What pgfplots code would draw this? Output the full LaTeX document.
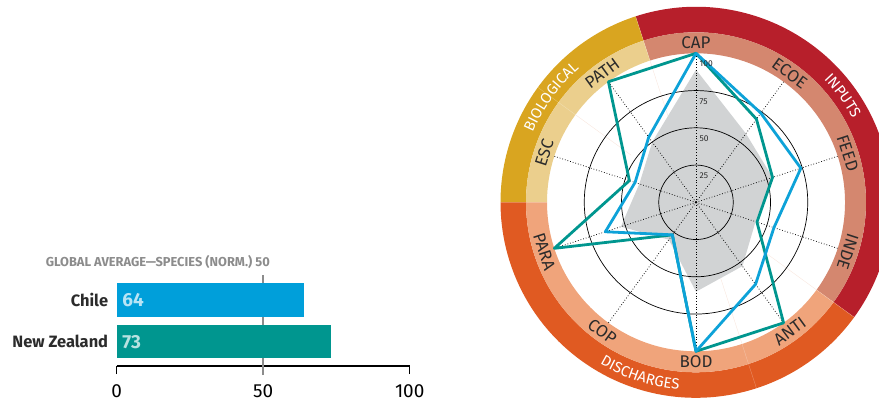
\documentclass[border=0pt]{standalone}
\usepackage{fontspec}
\setmainfont{Fira Sans}
\usepackage{graphicx}
\usepackage{pgfplots}
\pgfplotsset{compat=1.18}
\usepgfplotslibrary{polar}
\usetikzlibrary{decorations.text}

\definecolor{chileblue}{HTML}{009FDA}
\definecolor{nzteal}{HTML}{00968F}
\definecolor{lineblue}{HTML}{0DA2D8}
\definecolor{avgfill}{HTML}{D1D3D4}
\definecolor{avggray}{HTML}{8C8C8C}
\definecolor{inputsdark}{HTML}{B71F2B}
\definecolor{inputslight}{HTML}{D4876F}
\definecolor{biodark}{HTML}{D9A520}
\definecolor{biolight}{HTML}{EBCF8D}
\definecolor{discdark}{HTML}{E05A22}
\definecolor{disclight}{HTML}{F0A47B}
\definecolor{labeldark}{HTML}{2B2B2B}
\definecolor{faintline}{HTML}{F8E6DE}

\newcommand{\sector}[5]{\fill[#5] (#1:#3) arc[start angle=#1, end angle=#2, radius=#3] -- (#2:#4) arc[start angle=#2, end angle=#1, radius=#4] -- cycle;}

\begin{document}
\begin{tikzpicture}

% ---------- ring around radar ----------
\begin{scope}[shift={(696bp,197.7bp)}]
\sector{-36}{108}{170bp}{195.5bp}{inputsdark}
\sector{-36}{108}{149bp}{170bp}{inputslight}
\sector{108}{180}{170bp}{195.5bp}{biodark}
\sector{108}{180}{149bp}{170bp}{biolight}
\sector{180}{324}{170bp}{195.5bp}{discdark}
\sector{180}{324}{149bp}{170bp}{disclight}
\foreach \a in {108,144,324,288}{
  \draw[faintline, line width=0.4bp] (\a:80bp) -- (\a:149bp);
  \draw[white, opacity=0.3, line width=0.4bp] (\a:149bp) -- (\a:195.5bp);
}
\end{scope}

% ---------- radar chart ----------
\begin{axis}[
  at={(696bp,197.7bp)}, anchor=center,
  scale only axis, width=298bp, height=298bp,
  xmin=-100, xmax=100, ymin=-100, ymax=100,
  hide axis, clip=false,
]
% global average (gray area)
\addplot[data cs=polar, draw=none, fill=avgfill, mark=none] coordinates {
  (90,89) (54,57) (18,54) (-18,42) (-54,53) (-90,60) (-126,31) (-162,53) (162,40) (126,50)
};
% grid
\draw[black, line width=0.7bp] (axis cs:0,0) circle[radius=37.25bp];
\draw[black, line width=0.7bp] (axis cs:0,0) circle[radius=74.5bp];
\draw[black, line width=0.7bp] (axis cs:0,0) circle[radius=111.75bp];
\draw[black, dotted, line width=0.75bp] (axis cs:0,0) -- ++(18:149bp);
\draw[black, dotted, line width=0.75bp] (axis cs:0,0) -- ++(54:149bp);
\draw[black, dotted, line width=0.75bp] (axis cs:0,0) -- ++(90:149bp);
\draw[black, dotted, line width=0.75bp] (axis cs:0,0) -- ++(126:149bp);
\draw[black, dotted, line width=0.75bp] (axis cs:0,0) -- ++(162:149bp);
\draw[black, dotted, line width=0.75bp] (axis cs:0,0) -- ++(198:149bp);
\draw[black, dotted, line width=0.75bp] (axis cs:0,0) -- ++(234:149bp);
\draw[black, dotted, line width=0.75bp] (axis cs:0,0) -- ++(270:149bp);
\draw[black, dotted, line width=0.75bp] (axis cs:0,0) -- ++(306:149bp);
\draw[black, dotted, line width=0.75bp] (axis cs:0,0) -- ++(342:149bp);
% New Zealand (teal)
\addplot[data cs=polar, nzteal, line width=2.8bp, line join=round, line cap=round, mark=none] coordinates {
  (90,100) (54,69) (18,54) (-18,43) (-54,100) (-90,100) (-126,27) (-162,100) (162,47) (126,100) (90,100)
};
% Chile (blue)
\addplot[data cs=polar, lineblue, line width=2.8bp, line join=round, line cap=round, mark=none] coordinates {
  (90,100) (54,74) (18,74) (-18,55) (-54,68) (-90,100) (-126,27) (-162,64) (162,43) (126,54) (90,100)
};
\end{axis}

\begin{scope}[shift={(696bp,197.7bp)}]
\fill[black] (0,0) circle[radius=1.3bp];
% radial value labels
\foreach \v/\yy in {25/26.3, 50/63.6, 75/100.6, 100/138.3}{
  \node[anchor=west, inner sep=0pt, font=\fontsize{8.5}{8.5}\selectfont, text=labeldark] at (3.5bp,\yy bp) {\v};
}
% axis labels in inner band
\foreach \ang/\rot/\lab in {90/0/CAP, 54/-36/ECOE, 18/-72/FEED, -18/-108/INDE, -54/36/ANTI, -90/0/BOD, -126/-36/COP, -162/-72/PARA, 162/72/ESC, 126/36/PATH}{
  \node[rotate=\rot, inner sep=0pt, font=\fontsize{17}{17}\selectfont, text=labeldark] at (\ang:159.5bp) {\lab};
}
% group labels on outer ring
\path[decorate, decoration={text along path, text align=center,
  text={|\fontsize{15}{15}\selectfont\color{white}|BIOLOGICAL}}]
  (180:177.5bp) arc[start angle=180, end angle=108, radius=177.5bp];
\path[decorate, decoration={text along path, text align=center,
  text={|\fontsize{15}{15}\selectfont\color{white}|INPUTS}}]
  (108:177.5bp) arc[start angle=108, end angle=-36, radius=177.5bp];
\path[decorate, decoration={text along path, text align=center,
  text={|\fontsize{15}{15}\selectfont\color{white}|DISCHARGES}}]
  (-180:188bp) arc[start angle=-180, end angle=-36, radius=188bp];
\end{scope}

% ---------- bar chart ----------
\begin{axis}[
  at={(116.7bp,34bp)}, anchor=south west,
  scale only axis, width=293bp, height=91bp,
  xmin=0, xmax=100, ymin=-0.583, ymax=1.6,
  axis x line=bottom, axis y line=left,
  x axis line style={-, line width=1.2bp, black},
  y axis line style={draw=none},
  xtick={0,50,100}, ytick={0,1},
  yticklabels={New Zealand, Chile},
  xtick align=outside, ytick align=inside,
  major tick length=8bp,
  xtick style={line width=1.2bp, black},
  ytick style={draw=none},
  xticklabel style={font=\fontsize{19}{19}\selectfont, text=black, inner sep=0pt, yshift=-10.6bp},
  yticklabel style={font=\bfseries\fontsize{16.5}{16.5}\selectfont, text=labeldark, anchor=east, inner sep=0pt, xshift=-8.4bp},
  /pgf/number format/assume math mode=true,
  clip=false,
]
\addplot[avggray, line width=2bp, mark=none] coordinates {(50,-0.8) (50,1.6)};
\addplot[xbar, bar width=33.4bp, bar shift=0pt, fill=chileblue, draw=none] coordinates {(64,1)};
\addplot[xbar, bar width=33.4bp, bar shift=0pt, fill=nzteal, draw=none] coordinates {(73,0)};
\node[anchor=west, inner sep=0pt, xshift=5.6bp, font=\bfseries\fontsize{19}{19}\selectfont, text=white!72!chileblue] at (axis cs:0,1) {64};
\node[anchor=west, inner sep=0pt, xshift=5.6bp, font=\bfseries\fontsize{19}{19}\selectfont, text=white!72!nzteal] at (axis cs:0,0) {73};
\end{axis}

\node[anchor=east, inner sep=0pt, text=avggray] at (270bp,138bp)
  {\resizebox{224bp}{\height}{\bfseries\fontsize{13}{13}\selectfont GLOBAL AVERAGE—SPECIES (NORM.) 50}};

\pgfresetboundingbox
\path[use as bounding box] (0,0) rectangle (879bp,400bp);
\end{tikzpicture}
\end{document}
